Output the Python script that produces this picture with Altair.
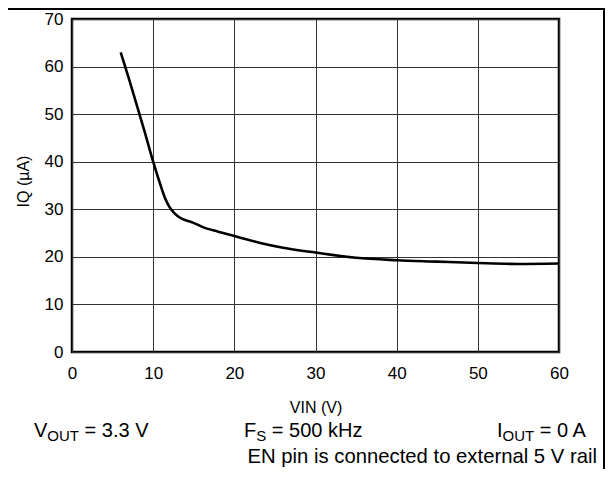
import altair as alt
import pandas as pd

# ---- data ----
vin = [6, 7, 8, 9, 10, 11, 11.5, 12, 12.5, 13, 13.7, 14.9, 16.2, 18, 20, 23.2, 26, 30, 35, 40, 45, 50, 55, 60]
iq = [63, 57.5, 51.8, 46, 40, 34.6, 32.2, 30.5, 29.4, 28.6, 27.9, 27.2, 26.2, 25.3, 24.4, 22.9, 21.9, 20.9, 19.8, 19.3, 19.0, 18.7, 18.5, 18.6]

x_ticks = [0, 10, 20, 30, 40, 50, 60]
y_ticks = [0, 10, 20, 30, 40, 50, 60, 70]

df = pd.DataFrame({"VIN": vin, "IQ": iq})

W, H = 487, 333
FONT = "Liberation Sans"
S = 20      # main annotation size
SUB = 15    # subscript size

# Arial/Liberation Sans advance widths (per em)
ADV = {"V": 0.667, "O": 0.778, "U": 0.722, "T": 0.611, "F": 0.611, "S": 0.667, "I": 0.278,
       " ": 0.278, "=": 0.584, ".": 0.278, "k": 0.5, "H": 0.722, "z": 0.5, "A": 0.667}


def width(s, size):
    return sum(ADV.get(c, 0.556) for c in s) * size


def sub_text(parts, x0, y):
    """parts: list of (text, is_sub). Returns list of text layers."""
    layers = []
    x = x0
    for txt, is_sub in parts:
        size = SUB if is_sub else S
        if txt.startswith(" "):
            x += width(" ", size)
            txt = txt.lstrip(" ")
        layers.append(
            alt.Chart(df).mark_text(
                text=txt, align="left", baseline="alphabetic", font=FONT,
                fontSize=size, color="black"
            ).encode(x=alt.value(x), y=alt.value(y + (4 if is_sub else 0)))
            .transform_filter("datum.VIN == 6")
        )
        x += width(txt, size)
    return layers


line = alt.Chart(df).mark_line(color="black", strokeWidth=2.6, interpolate="monotone").encode(
    x=alt.X("VIN:Q", scale=alt.Scale(domain=[0, 60], nice=False),
            axis=alt.Axis(values=x_ticks, title="VIN (V)", titleX=W / 2, titleY=55,
                          titleBaseline="middle", labelPadding=13, labelFlush=False)),
    y=alt.Y("IQ:Q", scale=alt.Scale(domain=[0, 70], nice=False),
            axis=alt.Axis(values=y_ticks, title="IQ (µA)", titleX=-49, titleY=162,
                          titleAngle=270, titleAlign="center", titleBaseline="middle",
                          labelPadding=9, labelFlush=False)),
)

base_y = 418
layers = [line]
layers += sub_text([("V", False), ("OUT", True), (" = 3.3 V", False)], -38, base_y)
layers += sub_text([("F", False), ("S", True), (" = 500 kHz", False)], 244 - 72, base_y)
layers += sub_text([("I", False), ("OUT", True), (" = 0 A", False)], 497 - 72, base_y)
layers.append(
    alt.Chart(df).mark_text(text="EN pin is connected to external 5 V rail", align="right",
                            baseline="alphabetic", font=FONT, fontSize=20.3, color="black")
    .encode(x=alt.value(597 - 72), y=alt.value(444)).transform_filter("datum.VIN == 6")
)
# outer frame (top and right edges)
layers.append(alt.Chart(df).mark_rule(color="black", strokeWidth=2).encode(
    x=alt.value(-80), x2=alt.value(533), y=alt.value(-10)).transform_filter("datum.VIN == 6"))
layers.append(alt.Chart(df).mark_rule(color="black", strokeWidth=2).encode(
    x=alt.value(532), y=alt.value(-11), y2=alt.value(480)).transform_filter("datum.VIN == 6"))

chart = alt.layer(*layers).properties(
    width=W, height=H,
    background="white",
    autosize=alt.AutoSizeParams(type="none"),
    padding={"left": 64, "top": 11, "right": 46, "bottom": 117},
).configure_view(stroke="black", strokeWidth=2.5).configure_axis(
    grid=True, gridColor="#333", gridWidth=1, gridOpacity=1, ticks=False, domain=False,
    labelFont=FONT, labelFontSize=17, labelColor="black",
    titleFont=FONT, titleFontSize=16, titleFontWeight="normal", titleColor="black",
)

chart.save("out.html", embed_options={"renderer": "svg", "actions": False})
